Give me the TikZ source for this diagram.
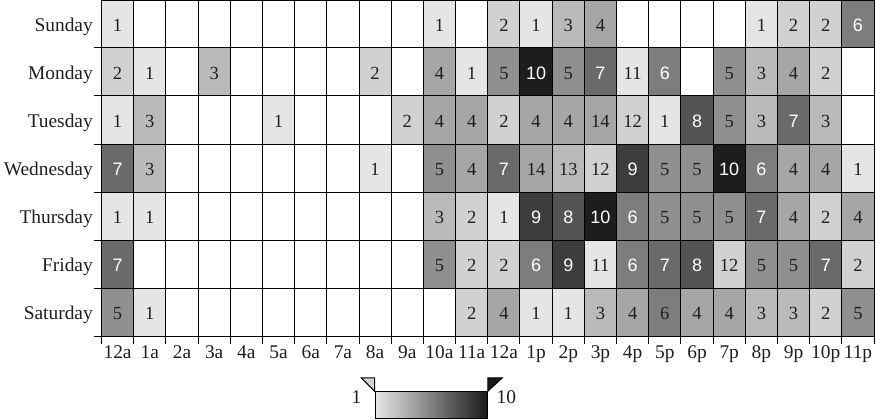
\documentclass[tikz,border=0pt]{standalone}
\usepackage{fontspec}
\setmainfont{Liberation Serif}
\setsansfont{Liberation Sans}
\definecolor{g1}{gray}{0.90}
\definecolor{g2}{gray}{0.82}
\definecolor{g3}{gray}{0.73}
\definecolor{g4}{gray}{0.65}
\definecolor{g5}{gray}{0.565}
\definecolor{g6}{gray}{0.49}
\definecolor{g7}{gray}{0.415}
\definecolor{g8}{gray}{0.33}
\definecolor{g9}{gray}{0.24}
\definecolor{g10}{gray}{0.115}
\definecolor{legl}{gray}{0.91}
\definecolor{legd}{gray}{0.10}
\definecolor{ink}{gray}{0.12}
\tikzset{
  cellbox/.style={rectangle, inner sep=0pt, minimum width=32.19pt, minimum height=48pt, text height=15pt, text depth=0pt},
  darknum/.style={text=ink, font=\fontsize{18.5}{20}\selectfont},
  lightnum/.style={text=white, font=\sffamily\fontsize{18}{20}\selectfont},
  daylabel/.style={anchor=base east, inner sep=0pt, text=ink, font=\fontsize{19.4}{22}\selectfont},
  hourlabel/.style={anchor=base, inner sep=0pt, text=ink, font=\fontsize{19.4}{22}\selectfont},
  gridline/.style={line width=1pt, black},
  legbar/.style={draw=black, line width=1pt, left color=legl, right color=legd, inner sep=0pt, minimum width=112.3pt, minimum height=26.6pt}
}
\begin{document}
\begin{tikzpicture}[x=1pt,y=-1pt]
\useasboundingbox (0,0) rectangle (876,420);
% cells
\foreach \r/\data in {
 0/{0/1,10/1,12/2,13/1,14/3,15/4,20/1,21/2,22/2,23/6},
 1/{0/2,1/1,3/3,8/2,10/4,11/1,12/5,13/10,14/5,15/7,16/11,17/6,19/5,20/3,21/4,22/2},
 2/{0/1,1/3,5/1,9/2,10/4,11/4,12/2,13/4,14/4,15/14,16/12,17/1,18/8,19/5,20/3,21/7,22/3},
 3/{0/7,1/3,8/1,10/5,11/4,12/7,13/14,14/13,15/12,16/9,17/5,18/5,19/10,20/6,21/4,22/4,23/1},
 4/{0/1,1/1,10/3,11/2,12/1,13/9,14/8,15/10,16/6,17/5,18/5,19/5,20/7,21/4,22/2,23/4},
 5/{0/7,10/5,11/2,12/2,13/6,14/9,15/11,16/6,17/7,18/8,19/12,20/5,21/5,22/7,23/2},
 6/{0/5,1/1,11/2,12/4,13/1,14/1,15/3,16/4,17/6,18/4,19/4,20/3,21/3,22/2,23/5}}{
  \foreach \c/\v in \data {
    \pgfmathtruncatemacro\ci{mod(\v-1,10)+1}
    \pgfmathtruncatemacro\wt{(\ci>5)*(1-(\r==6)*(\c==17))}
    \ifnum\wt=1 \tikzset{curnum/.style={lightnum}}\else\tikzset{curnum/.style={darknum}}\fi
    \node[cellbox, fill=g\ci, curnum] (c-\r-\c) at ({101.5+(\c+0.5)*32.19},{48*\r+24}) {\v};
  }
}
% grid
\foreach \k in {0,...,24}{
  \draw[gridline] ({101.5+\k*32.19},0) -- ({101.5+\k*32.19},344);
}
\draw[gridline] (101.5,0.5) -- (874.1,0.5);
\foreach \k in {1,...,7}{
  \draw[gridline] (94,{48*\k}) -- (874.1,{48*\k});
}
% day labels
\foreach \d [count=\i from 0] in {Sunday,Monday,Tuesday,Wednesday,Thursday,Friday,Saturday}{
  \node[daylabel] (day-\i) at (93,{48*\i+31.5}) {\d};
}
% hour labels
\foreach \h [count=\i from 0] in {12a,1a,2a,3a,4a,5a,6a,7a,8a,9a,10a,11a,12a,1p,2p,3p,4p,5p,6p,7p,8p,9p,10p,11p}{
  \node[hourlabel] (h-\i) at ({101.5+(\i+0.5)*32.19},358.5) {\h};
}
% legend
\node[legbar] (legend) at (431.2,405) {};
\draw[line width=1pt, fill=g2] (legend.north west) -- ++(0,-13.3) -- ++(-13.3,0) -- cycle;
\draw[line width=1pt, fill=legd] (legend.north east) -- ++(0,-13.3) -- ++(14.4,0) -- cycle;
\node[anchor=base east, inner sep=0pt, text=ink, font=\fontsize{19.4}{22}\selectfont] (leg-min) at (361.5,403.5) {1};
\node[anchor=base west, inner sep=0pt, text=ink, font=\fontsize{19.4}{22}\selectfont] (leg-max) at (496.5,403.5) {10};
\end{tikzpicture}
\end{document}
